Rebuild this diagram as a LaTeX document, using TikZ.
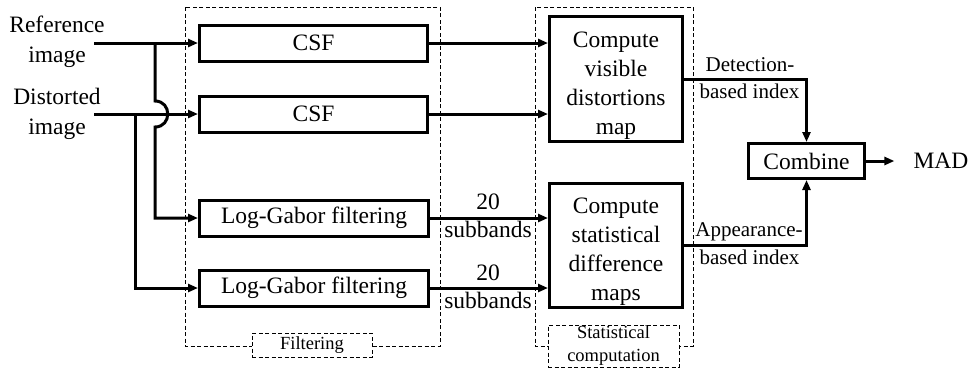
\documentclass[tikz,border=0pt]{standalone}
\usepackage{fontspec}
\setmainfont{Liberation Serif}
\usetikzlibrary{arrows.meta}

\begin{document}
\begin{tikzpicture}[x=1pt,y=-1pt,
  blk/.style={draw, line width=3pt, inner sep=0pt, align=center,
    font=\fontsize{23.5}{29}\selectfont},
  txt/.style={inner sep=0pt, align=center, font=\fontsize{23.5}{30}\selectfont},
  idx/.style={inner sep=0pt, align=center, font=\fontsize{21}{25}\selectfont},
  grp/.style={draw, line width=0.9pt, dash pattern=on 4pt off 2.5pt},
  grplabel/.style={grp, fill=white, inner sep=0pt, align=center,
    font=\fontsize{18.5}{23}\selectfont},
  arr/.style={line width=3pt, -{Triangle[length=10pt,width=8pt]}}]

\useasboundingbox (0,0) rectangle (973,368);

% dashed stage frames
\draw[grp] (185,7) rectangle (440,346);
\draw[grp] (535,7) rectangle (693,346);
\node[grplabel, minimum width=120pt, minimum height=24pt] (flab) at (312,345) {Filtering};
\node[grplabel, minimum width=131pt, minimum height=42pt] (slab) at (613.5,346) {Statistical\\computation};

% inputs
\node[txt] (refimg) at (57,42) {Reference\\image};
\node[txt] (disimg) at (57,114) {Distorted\\image};
\coordinate (refstart) at (94,43);
\coordinate (disstart) at (94,114);
\coordinate (rb) at (155,43);
\coordinate (db) at (135,114);
\coordinate (hopa) at (155,101);
\coordinate (hopb) at (155,127);

% filtering blocks
\node[blk, minimum width=228pt, minimum height=36pt] (csf1) at (313.5,43) {CSF};
\node[blk, minimum width=228pt, minimum height=36pt] (csf2) at (313.5,114) {CSF};
\node[blk, minimum width=229pt, minimum height=36pt] (lg1) at (314,218) {Log-Gabor filtering};
\node[blk, minimum width=229pt, minimum height=36pt] (lg2) at (314,288) {Log-Gabor filtering};

% statistical computation blocks (strut on the first line centres the text block)
\node[blk, minimum width=133pt, minimum height=125pt] (vis) at (616,79)
  {\rule{0pt}{28pt}Compute\\visible\\distortions\\map};
\node[blk, minimum width=133pt, minimum height=124pt] (stat) at (616,245.5)
  {\rule{0pt}{28pt}Compute\\statistical\\difference\\maps};

% combination
\node[blk, minimum width=116pt, minimum height=35pt] (comb) at (806.5,161) {Combine};
\node[txt, inner sep=2pt] (mad) at (941,161) {MAD};

% input connections
\draw[arr] (refstart) -- (csf1.west);
\draw[arr] (disstart) -- (csf2.west);
\draw[arr] (rb) -- (hopa) .. controls (172,101) and (172,127) .. (hopb) |- (lg1.west);
\draw[arr] (db) |- (lg2.west);

% filter outputs
\draw[arr] (csf1.east) -- (csf1.east -| vis.west);
\draw[arr] (csf2.east) -- (csf2.east -| vis.west);
\draw[arr] (lg1.east) -- (lg1.east -| stat.west);
\draw[arr] (lg2.east) -- (lg2.east -| stat.west);
\node[txt] (n1) at (488,202) {20};
\node[txt] (s1) at (488,229) {subbands};
\node[txt] (n2) at (488,273) {20};
\node[txt] (s2) at (488,300) {subbands};

% indices
\draw[arr] (vis.east) -| (comb.north);
\draw[arr] (stat.east) -| (comb.south);
\node[idx] (d1) at (750,65) {Detection-};
\node[idx] (d2) at (749.5,91) {based index};
\node[idx] (a1) at (749,232) {Appearance-};
\node[idx] (a2) at (749.5,257) {based index};

\draw[arr, shorten >=17pt] (comb.east) -- (mad.west);
\end{tikzpicture}
\end{document}
